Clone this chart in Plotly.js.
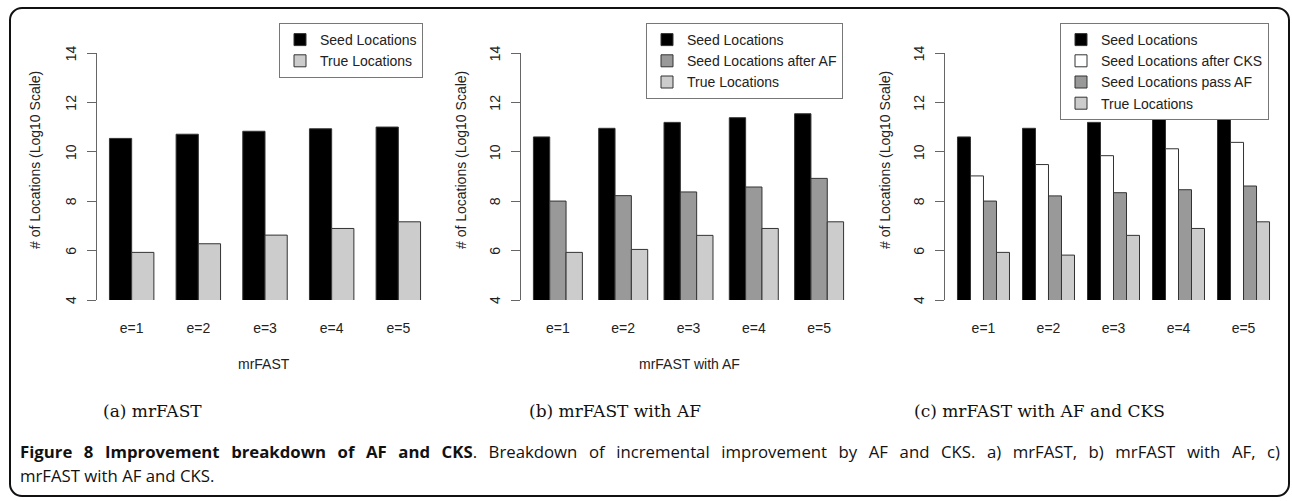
<!DOCTYPE html>
<html>
<head>
<meta charset="utf-8">
<script src="https://cdn.plot.ly/plotly-3.0.1.min.js"></script>
<style>
  html, body { margin: 0; padding: 0; background: #fff; }
  #wrap { position: relative; width: 1292px; height: 501px; overflow: hidden; }
  #chart { width: 1292px; height: 501px; }
  #frame { position: absolute; left: 9px; top: 7px; width: 1281px; height: 490px;
           border: 2px solid #111; border-radius: 13px; pointer-events: none; box-sizing: border-box; }
  #caption { position: absolute; left: 20px; top: 440px; width: 1260px;
             font-family: "Open Sans", "Noto Sans", sans-serif; font-size: 17px; line-height: 24px; color: #111; }
  #caption .l1 { text-align: justify; text-align-last: justify; }
  #caption b { font-weight: 700; }
</style>
</head>
<body>
<div id="wrap">
  <div id="chart"></div>
  <div id="caption"></div>
  <div id="frame"></div>
</div>
<script>
// ---- data (log10 of number of locations) ----
const categories = ["e=1", "e=2", "e=3", "e=4", "e=5"];

// (a) mrFAST
const a_seed = [10.55, 10.72, 10.84, 10.94, 11.01];
const a_true = [5.93, 6.28, 6.63, 6.90, 7.17];

// (b) mrFAST with AF
const b_seed = [10.61, 10.96, 11.20, 11.39, 11.55];
const b_afterAF = [8.01, 8.23, 8.38, 8.58, 8.93];
const b_true = [5.93, 6.05, 6.62, 6.90, 7.17];

// (c) mrFAST with AF and CKS
const c_seed = [10.61, 10.96, 11.20, 11.39, 11.55];
const c_afterCKS = [9.03, 9.49, 9.85, 10.13, 10.39];
const c_passAF = [8.01, 8.22, 8.35, 8.47, 8.62];
const c_true = [5.93, 5.82, 6.62, 6.90, 7.17];

const yTicks = [4, 6, 8, 10, 12, 14];
const yTitle = "# of Locations (Log10 Scale)";
const xTitles = ["mrFAST", "mrFAST with AF"];
const subCaptions = ["(a) mrFAST", "(b) mrFAST with AF", "(c) mrFAST with AF and CKS"];
const captionBold = "Figure 8 Improvement breakdown of AF and CKS";
const captionLine1 = ". Breakdown of incremental improvement by AF and CKS. a) mrFAST, b) mrFAST with AF, c)";
const captionLine2 = "mrFAST with AF and CKS.";

// ---- styling ----
const W = 1292, H = 501;
const px = x => x / W;
const py = y => 1 - y / H;
const SANS = "Liberation Sans, Arial, sans-serif";
const TXT = "#222";
const COL = { seed: "#000000", cks: "#ffffff", af: "#999999", tru: "#cccccc" };
const LINE = { color: "#333", width: 1 };

function bar(name, y, color, xa, ya, leg, width, offset) {
  return {
    type: "bar", name: name, x: categories, y: y,
    xaxis: xa, yaxis: ya, legend: leg,
    width: width, offset: offset,
    marker: { color: color, line: LINE },
    hoverinfo: "x+y+name"
  };
}

const traces = [
  bar("Seed Locations", a_seed, COL.seed, "x", "y", "legend", 1/3, -1/3),
  bar("True Locations", a_true, COL.tru, "x", "y", "legend", 1/3, 0),

  bar("Seed Locations", b_seed, COL.seed, "x2", "y2", "legend2", 0.25, -0.375),
  bar("Seed Locations after AF", b_afterAF, COL.af, "x2", "y2", "legend2", 0.25, -0.125),
  bar("True Locations", b_true, COL.tru, "x2", "y2", "legend2", 0.25, 0.125),

  bar("Seed Locations", c_seed, COL.seed, "x3", "y3", "legend3", 0.2, -0.4),
  bar("Seed Locations after CKS", c_afterCKS, COL.cks, "x3", "y3", "legend3", 0.2, -0.2),
  bar("Seed Locations pass AF", c_passAF, COL.af, "x3", "y3", "legend3", 0.2, 0),
  bar("True Locations", c_true, COL.tru, "x3", "y3", "legend3", 0.2, 0.2)
];

const yDomain = [py(300), py(53.3)];
const axisLeft = [97, 521, 945];

function xAxis(d0, d1, pad, anchor) {
  return {
    domain: [px(d0), px(d1)], range: [-pad, 4 + pad], anchor: anchor,
    type: "category", showline: false, showgrid: false, zeroline: false,
    ticks: "", ticklabelstandoff: 18,
    tickfont: { family: SANS, size: 14, color: TXT },
    fixedrange: true
  };
}
function yAxis(anchor) {
  return {
    domain: yDomain, range: [4, 14], anchor: anchor,
    tickvals: yTicks, showticklabels: false,
    showline: true, linecolor: "#666", linewidth: 1,
    ticks: "outside", ticklen: 9, tickcolor: "#666", tickwidth: 1,
    showgrid: false, zeroline: false, fixedrange: true
  };
}
function legendAt(left) {
  return {
    x: px(left), xanchor: "left", y: py(23), yanchor: "top",
    bgcolor: "#fff", bordercolor: "#777", borderwidth: 1,
    font: { family: SANS, size: 14, color: TXT },
    tracegroupgap: 0, itemclick: false, itemdoubleclick: false
  };
}

const annotations = [];
// y tick labels (rotated, R style) placed through each y axis scale
["y", "y2", "y3"].forEach((yr, i) => {
  yTicks.forEach(t => annotations.push({
    xref: "paper", yref: yr, x: px(axisLeft[i] - 26), y: t, text: String(t),
    textangle: -90, showarrow: false, xanchor: "center", yanchor: "middle",
    font: { family: SANS, size: 14, color: TXT }
  }));
});
// y titles
[35, 461, 885].forEach(x => annotations.push({
  xref: "paper", yref: "paper", x: px(x), y: py(160), text: yTitle, textangle: -90,
  showarrow: false, xanchor: "center", yanchor: "middle",
  font: { family: SANS, size: 14, color: TXT }
}));
// x titles
[[264, 0], [689, 1]].forEach(([x, i]) => annotations.push({
  xref: "paper", yref: "paper", x: px(x), y: py(364), text: xTitles[i],
  showarrow: false, xanchor: "center", yanchor: "middle",
  font: { family: SANS, size: 14, color: TXT }
}));
// sub captions
[152, 615, 1039].forEach((x, i) => annotations.push({
  xref: "paper", yref: "paper", x: px(x), y: py(411), text: subCaptions[i],
  showarrow: false, xanchor: "center", yanchor: "middle",
  font: { family: "DejaVu Serif, Liberation Serif, serif", size: 17, color: "#111" }
}));

const layout = {
  width: W, height: H, margin: { l: 0, r: 0, t: 0, b: 0 },
  paper_bgcolor: "#fff", plot_bgcolor: "#fff",
  showlegend: true, barmode: "group",
  xaxis: xAxis(97, 433, 0.52, "y"), yaxis: yAxis("x"),
  xaxis2: xAxis(521, 856, 0.565, "y2"), yaxis2: yAxis("x2"),
  xaxis3: xAxis(945, 1282, 0.592, "y3"), yaxis3: yAxis("x3"),
  legend: legendAt(279), legend2: legendAt(646), legend3: legendAt(1060),
  annotations: annotations
};

Plotly.newPlot("chart", traces, layout, { staticPlot: true, displayModeBar: false });

// figure caption: justified first line, font sized so the line fits naturally
const cap = document.getElementById("caption");
const l1 = document.createElement("div"); l1.className = "l1";
const probe = document.createElement("span"); probe.style.whiteSpace = "nowrap";
const b = document.createElement("b"); b.textContent = captionBold;
probe.appendChild(b); probe.appendChild(document.createTextNode(captionLine1));
l1.appendChild(probe);
const l2 = document.createElement("div"); l2.textContent = captionLine2;
cap.appendChild(l1); cap.appendChild(l2);
const avail = cap.clientWidth;
const natural = probe.getBoundingClientRect().width;
if (natural > avail * 0.985) {
  cap.style.fontSize = (17 * avail * 0.985 / natural).toFixed(2) + "px";
}
probe.style.whiteSpace = "normal";
</script>
</body>
</html>
